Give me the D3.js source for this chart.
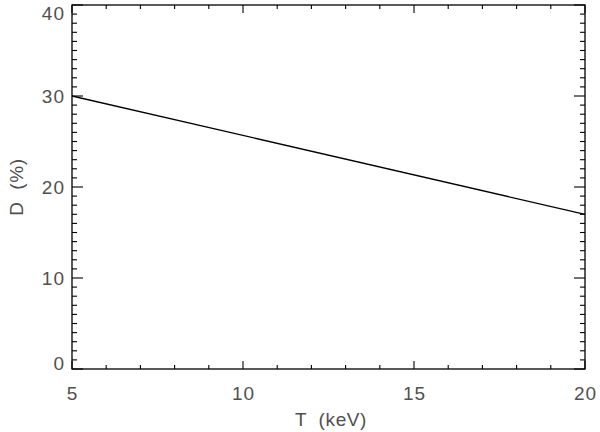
<!DOCTYPE html>
<html><head><meta charset="utf-8">
<script src="https://cdn.jsdelivr.net/npm/d3@7"></script>
<style>body{margin:0;background:#fff}svg{display:block}text{font-family:"Liberation Sans","DejaVu Sans",sans-serif;fill:#505050}</style>
</head><body><svg id="c" width="600" height="432"></svg>
<script>
const temperatures = [5, 20];
const dValues = [30, 17];
const xTicks = [5, 10, 15, 20];
const yTicks = [0, 10, 20, 30, 40];
const xLabel = "T  (keV)";
const yLabel = "D  (%)";

const svg = d3.select("#c");
const m = {l:72, r:585, t:5, b:369};
const x = d3.scaleLinear().domain([5,20]).range([m.l, m.r]);
const y = d3.scaleLinear().domain([0,40]).range([m.b, m.t]);

const g = svg.append("g").attr("stroke","#000").attr("stroke-width",1.1);
d3.range(5, 20.01, 1).forEach(v => {
  const major = xTicks.includes(v);
  const L = major ? 8 : 4;
  g.append("line").attr("x1",x(v)).attr("x2",x(v)).attr("y1",m.b).attr("y2",m.b-L);
  g.append("line").attr("x1",x(v)).attr("x2",x(v)).attr("y1",m.t).attr("y2",m.t+L);
});
d3.range(0, 40.01, 1).forEach(v => {
  const major = yTicks.includes(v);
  const L = major ? 11 : 5;
  g.append("line").attr("y1",y(v)).attr("y2",y(v)).attr("x1",m.l).attr("x2",m.l+L);
  g.append("line").attr("y1",y(v)).attr("y2",y(v)).attr("x1",m.r).attr("x2",m.r-L);
});

svg.append("rect").attr("x",m.l).attr("y",m.t).attr("width",m.r-m.l).attr("height",m.b-m.t)
  .attr("fill","none").attr("stroke","#000").attr("stroke-width",1.3);

svg.selectAll(".xt").data(xTicks).enter().append("text")
  .attr("x",d=>x(d)+0.5).attr("y",400).attr("text-anchor","middle")
  .attr("font-size",19).attr("letter-spacing",1).text(d=>d);
svg.selectAll(".yt").data(yTicks).enter().append("text")
  .attr("x",65).attr("y",d=>Math.min(Math.max(y(d)+7, m.t+14.5), m.b+1)).attr("text-anchor","end")
  .attr("font-size",19).attr("letter-spacing",1).text(d=>d);

svg.append("text").attr("x",331).attr("y",426).attr("text-anchor","middle").attr("font-size",19).attr("letter-spacing",0.6).style("white-space","pre").text(xLabel);
svg.append("text").attr("transform","translate(23,187) rotate(-90)").attr("text-anchor","middle").attr("font-size",19).attr("letter-spacing",0.6).style("white-space","pre").text(yLabel);

const line = d3.line().x((d,i)=>x(temperatures[i])).y(d=>y(d));
svg.append("path").datum(dValues).attr("d",line).attr("fill","none").attr("stroke","#000").attr("stroke-width",1.3);
</script></body></html>
